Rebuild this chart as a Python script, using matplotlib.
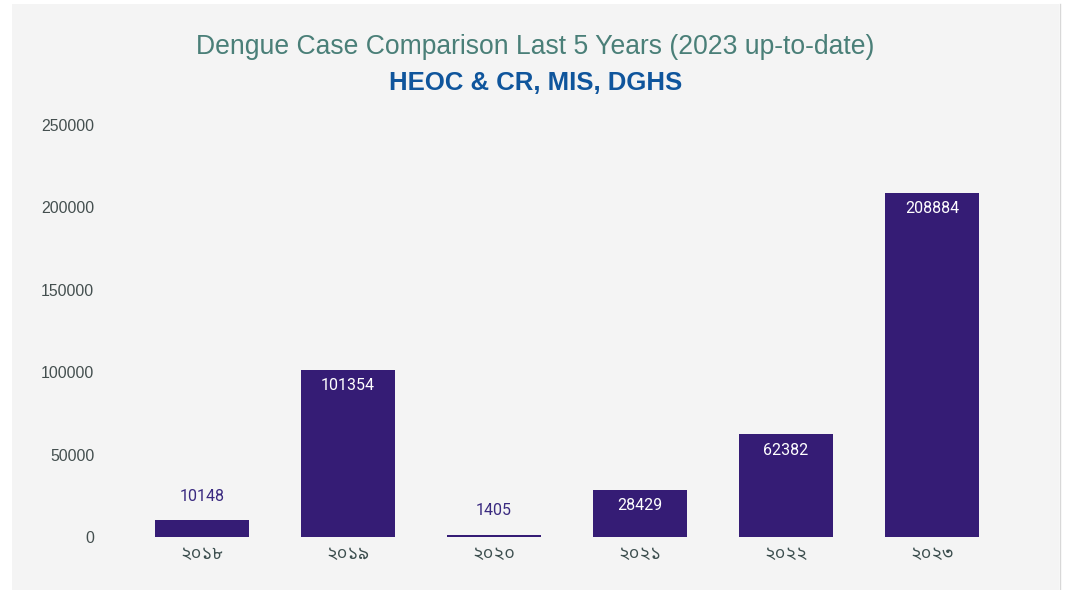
import matplotlib
matplotlib.use("Agg")
import matplotlib.pyplot as plt
from matplotlib.patches import Rectangle

years = ["২০১৮", "২০১৯", "২০২০", "২০২১", "২০২২", "২০২৩"]
cases = [10148, 101354, 1405, 28429, 62382, 208884]
yticks = [0, 50000, 100000, 150000, 200000, 250000]

W, H = 1068, 590
fig = plt.figure(figsize=(W / 100, H / 100), dpi=100)
fig.patch.set_facecolor("white")
fig.patches.append(Rectangle((12 / W, 0), (1059 - 12) / W, 1 - 4 / H,
                             transform=fig.transFigure, facecolor="#f4f4f4",
                             edgecolor="none", zorder=-5))
fig.add_artist(plt.Line2D([1059.5 / W, 1059.5 / W], [0, 1 - 4 / H],
                          transform=fig.transFigure, color="#d8d8d8", lw=1))

ax = fig.add_axes([129 / W, (H - 537) / H, (1005 - 129) / W, (537 - 125) / H])
ax.set_facecolor("none")
ax.set_zorder(2)
x = list(range(len(years)))
bar_color = "#351c75"
bars = ax.bar(x, cases, width=0.64, color=bar_color, zorder=2)
ax.set_xlim(-0.5, len(years) - 0.5)
ax.set_ylim(0, 250000)
ax.set_yticks(yticks)
ax.set_yticklabels([str(v) for v in yticks], fontsize=11.4, color="#444f4f",
                   family=["Liberation Sans", "DejaVu Sans"])
ax.tick_params(axis="y", length=0, pad=25)
ax.tick_params(axis="x", length=0, pad=6)
ax.set_xticks(x)
ax.set_xticklabels(years, fontsize=13, color="#3d4f4f",
                   family=["Noto Sans Bengali", "Hind Siliguri", "DejaVu Sans"])
for s in ax.spines.values():
    s.set_visible(False)

for xi, v in zip(x, cases):
    if v > 20000:
        ax.annotate(str(v), (xi, v), xytext=(0, -6), textcoords="offset points",
                    ha="center", va="top", color="white", fontsize=11.5,
                    family=["Roboto", "DejaVu Sans"], zorder=3)
    else:
        ax.annotate(str(v), (xi, v), xytext=(0, 12), textcoords="offset points",
                    ha="center", va="bottom", color="#3a2a80", fontsize=11.5,
                    family=["Roboto", "DejaVu Sans"], zorder=3)

fig.text(535.5 / W, 1 - 47 / H, "Dengue Case Comparison Last 5 Years (2023 up-to-date)",
         ha="center", va="center", fontsize=19.1, color="#4a7f78",
         family=["Liberation Sans", "DejaVu Sans"])
fig.text(535.5 / W, 1 - 83 / H, "HEOC & CR, MIS, DGHS",
         ha="center", va="center", fontsize=18.5, color="#0f559c", weight="bold",
         family=["Liberation Sans", "DejaVu Sans"])

fig.savefig("out.png", dpi=100, facecolor="white")
